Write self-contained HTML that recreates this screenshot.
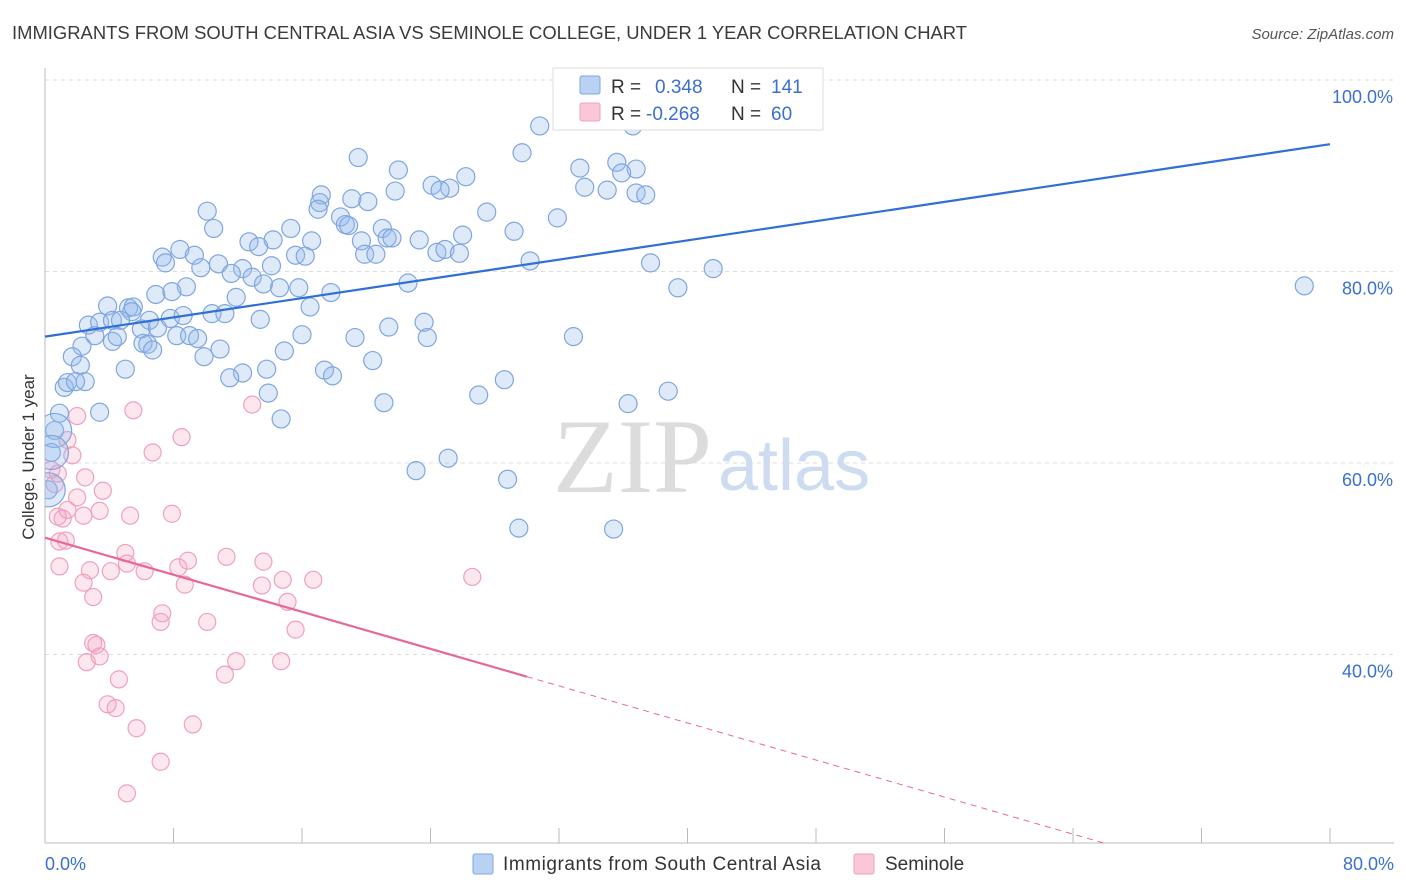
<!DOCTYPE html>
<html><head><meta charset="utf-8"><style>
body{margin:0;background:#fff;font-family:"Liberation Sans",sans-serif;}
svg{display:block}
</style></head><body>
<svg id="chart" width="1406" height="892" xmlns="http://www.w3.org/2000/svg">
<text x="12" y="39" font-size="18" fill="#3a3a3a" textLength="955" lengthAdjust="spacingAndGlyphs">IMMIGRANTS FROM SOUTH CENTRAL ASIA VS SEMINOLE COLLEGE, UNDER 1 YEAR CORRELATION CHART</text>
<text x="1394" y="39" font-size="15" fill="#555" font-style="italic" text-anchor="end">Source: ZipAtlas.com</text>
<text x="34" y="457" font-size="17" fill="#333" text-anchor="middle" transform="rotate(-90 34 457)">College, Under 1 year</text>
<g id="grid"></g>
<text x="553" y="492" font-size="106" fill="#dcdcdc" font-family="Liberation Serif,serif">ZIP</text>
<text x="718" y="490" font-size="72" fill="#cddcf1">atlas</text>
<defs><clipPath id="pc"><rect x="45" y="60" width="1360" height="783"/></clipPath></defs>
<g id="marks" clip-path="url(#pc)"></g>
<g id="lines"></g>
<g>
<rect x="553" y="68" width="270" height="62" fill="#fff" stroke="#ddd"/>
<rect x="580" y="76" width="20" height="18" fill="#b9d1f3" stroke="#7fa6e0" rx="2"/>
<text x="611" y="93" font-size="19" fill="#333">R = </text><text x="655" y="93" font-size="19" fill="#3a70d0">0.348</text>
<text x="731" y="93" font-size="19" fill="#333">N = </text><text x="771" y="93" font-size="19" fill="#3a70d0">141</text>
<rect x="580" y="103" width="20" height="18" fill="#f9c7d6" stroke="#f0a0bc" rx="2"/>
<text x="611" y="120" font-size="19" fill="#333">R = </text><text x="646" y="120" font-size="19" fill="#3a70d0">-0.268</text>
<text x="731" y="120" font-size="19" fill="#333">N = </text><text x="771" y="120" font-size="19" fill="#3a70d0">60</text>
</g>
<g>
<rect x="473" y="854" width="20" height="20" fill="#b9d1f3" stroke="#7fa6e0" rx="2"/>
<text x="503" y="870" font-size="19" fill="#333" textLength="318">Immigrants from South Central Asia</text>
<rect x="854" y="854" width="20" height="20" fill="#f9c7d6" stroke="#f0a0bc" rx="2"/>
<text x="885" y="870" font-size="19" fill="#333">Seminole</text>
</g>
</svg>
<script>
const yTicks=[40,60,80,100];
const xTickLabels=["0.0%","80.0%"];
const blueX=[30.8,36.6,29.7,19.5,22.0,33.3,35.6,36.8,35.9,26.2,24.1,25.2,24.6,33.6,35.0,36.8,37.4,21.8,17.2,19.1,17.1,20.1,17.0,10.1,27.5,31.9,18.4,18.7,18.9,21.0,10.5,15.3,14.2,16.6,19.7,21.3,21.6,23.3,26.0,29.2,12.7,13.3,8.4,9.3,7.3,7.5,15.6,16.2,19.9,20.6,24.4,24.9,25.8,30.2,37.7,41.6,9.7,10.8,12.3,11.6,14.1,12.9,13.6,14.6,15.8,22.6,8.8,6.9,7.9,11.9,17.8,39.4,78.4,3.9,5.2,5.5,5.4,10.4,11.2,16.5,2.7,3.4,4.2,4.7,6.5,7.8,8.6,13.4,6.0,7.0,8.2,9.0,9.5,16.0,19.3,21.4,23.6,23.8,32.9,3.1,2.3,4.2,4.5,6.1,6.4,6.7,10.9,9.9,14.9,1.7,2.2,5.0,20.4,13.8,12.3,11.5,17.4,17.9,28.6,2.5,1.2,1.4,1.9,13.9,27.0,38.8,21.1,36.3,0.9,3.4,14.7,0.6,0.4,25.1,23.1,28.8,0.2,29.5,35.4];
const blueY=[95.2,95.2,92.4,91.9,90.6,90.8,91.4,90.7,90.3,89.9,89.0,88.7,88.5,88.8,88.5,88.2,88.0,88.4,88.0,87.6,87.2,87.3,86.5,86.3,86.2,85.6,85.7,84.9,84.8,84.5,84.5,84.5,83.3,83.2,83.2,83.5,83.5,83.3,83.8,84.2,83.1,82.6,82.3,81.7,81.5,80.9,81.7,81.6,81.8,81.8,82.0,82.3,81.9,81.1,80.9,80.3,80.4,80.8,80.3,79.8,80.6,79.4,78.7,78.3,78.3,78.8,78.4,77.6,77.9,77.3,77.8,78.3,78.5,76.4,76.2,76.3,75.8,75.6,75.6,76.3,74.4,74.7,74.9,74.9,74.9,75.1,75.4,75.0,74.0,74.1,73.3,73.3,73.0,73.4,73.1,74.2,74.7,73.1,73.2,73.3,72.2,72.7,73.2,72.5,72.4,71.8,71.9,71.1,71.7,71.1,70.2,69.8,70.7,69.8,69.4,68.9,69.7,69.1,68.7,68.5,67.9,68.4,68.5,67.3,67.1,67.5,66.3,66.2,65.2,65.3,64.6,63.4,61.1,60.5,59.2,58.3,57.2,53.2,53.1];
const pinkX=[5.5,12.9,2.0,8.5,1.4,6.7,1.7,0.4,0.8,2.5,0.6,3.6,2.0,1.4,3.4,0.8,1.1,2.4,5.3,7.9,1.3,0.9,5.0,11.3,13.6,8.9,5.1,0.9,2.8,6.2,8.3,4.1,26.6,14.8,16.7,2.4,8.7,13.5,3.0,15.1,7.3,7.2,10.1,15.6,3.0,3.2,3.4,2.6,11.9,14.7,11.2,4.6,3.9,4.4,9.2,5.7,7.2,5.1];
const pinkY=[65.5,66.1,64.9,62.7,62.4,61.1,60.8,59.3,58.9,58.5,57.8,57.1,56.4,55.1,55.0,54.4,54.2,54.5,54.5,54.7,51.9,51.8,50.6,50.2,49.7,49.8,49.5,49.2,48.8,48.7,49.1,48.7,48.1,47.8,47.8,47.5,47.3,47.2,46.0,45.5,44.3,43.4,43.4,42.6,41.2,41.0,39.8,39.2,39.3,39.3,37.9,37.4,34.8,34.4,32.7,32.3,28.8,25.5];
const blueBig=[[0.6,63.4],[0.4,61.1],[0.2,57.2]];
const blueTrend=[73.2,93.3];
const pinkTrend=[52.2,13.5];
const pinkSolidEnd=30;
const NS="http://www.w3.org/2000/svg";
const X=v=>45+v*(1285/80);
const Y=v=>80+(100-v)*9.575;
function mk(t,a,p){const e=document.createElementNS(NS,t);for(const k in a)e.setAttribute(k,a[k]);p.appendChild(e);return e;}
const grid=document.getElementById('grid');
yTicks.forEach(t=>{
 const l=mk('line',{x1:45,x2:1394,y1:Y(t),y2:Y(t),stroke:'#ddd','stroke-dasharray':'4 4'},grid);
 
 
 const tx=mk('text',{x:1393,y:Y(t)+23,'font-size':18,fill:'#3a70d0','text-anchor':'end'},grid);
 tx.textContent=t.toFixed(1)+'%';
 
 
});
const ax=mk('line',{x1:45,x2:1394,y1:843,y2:843,stroke:'#bbb'},grid);


const ay=mk('line',{x1:45,x2:45,y1:68,y2:843,stroke:'#bbb'},grid);


for(let i=0;i<=10;i++){const tk=mk('line',{x1:X(i*8),x2:X(i*8),y1:828,y2:843,stroke:'#bbb'},grid);
 
 }
[[0,'start',45],[80,'end',1394]].forEach((d,i)=>{const tx=mk('text',{x:d[2],y:870,'font-size':18,fill:'#3a70d0','text-anchor':d[1]},grid);tx.textContent=xTickLabels[i];
 
 });
const marks=document.getElementById('marks');
pinkX.forEach((v,i)=>{const c=mk('circle',{cx:X(v),cy:Y(pinkY[i]),r:8.5,fill:'rgba(245,160,190,0.25)',stroke:'#f0a0bc','stroke-width':1.2},marks);
 
 });
blueX.forEach((v,i)=>{const c=mk('circle',{cx:X(v),cy:Y(blueY[i]),r:9,fill:'rgba(150,185,235,0.3)',stroke:'#7fa6e0','stroke-width':1.2},marks);
 
 });
blueBig.forEach(p=>{const c=mk('circle',{cx:X(p[0]),cy:Y(p[1]),r:17,fill:'rgba(150,185,235,0.3)',stroke:'#7fa6e0','stroke-width':1.2},marks);
 
 });
const lines=document.getElementById('lines');
const bl=mk('line',{x1:X(0),y1:Y(blueTrend[0]),x2:X(80),y2:Y(blueTrend[1]),stroke:'#2f6fd6','stroke-width':2.2},lines);


const pv=x=>pinkTrend[0]+(pinkTrend[1]-pinkTrend[0])*x/80;
const ps=mk('line',{x1:X(0),y1:Y(pv(0)),x2:X(pinkSolidEnd),y2:Y(pv(pinkSolidEnd)),stroke:'#e8679a','stroke-width':2.2},lines);


const xEnd=(pinkTrend[0]-20.3)/(pinkTrend[0]-pinkTrend[1])*80;
const pd=mk('line',{x1:X(pinkSolidEnd),y1:Y(pv(pinkSolidEnd)),x2:X(xEnd),y2:Y(pv(xEnd)),stroke:'#e8679a','stroke-width':1,'stroke-dasharray':'6 5'},lines);


</script>
</body></html>
